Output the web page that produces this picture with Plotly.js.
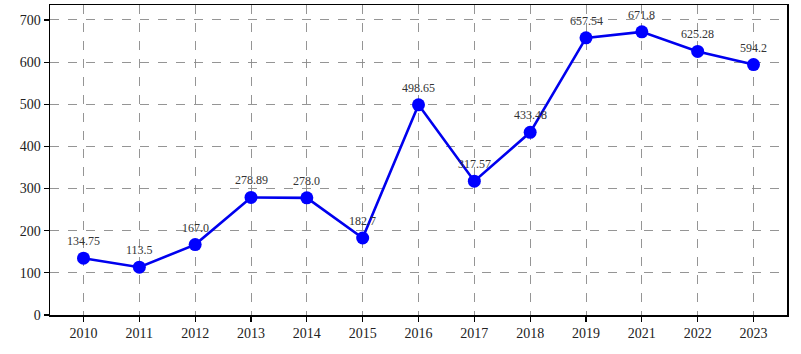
<!DOCTYPE html>
<html>
<head>
<meta charset="utf-8">
<script src="https://cdn.plot.ly/plotly-3.0.1.min.js"></script>
<style>html,body{margin:0;padding:0;background:#fff}#chart{width:801px;height:354px}</style>
</head>
<body>
<div id="chart"></div>
<script>
const years = ['2010','2011','2012','2013','2014','2015','2016','2017','2018','2019','2021','2022','2023'];
const values = [134.75, 113.5, 167.0, 278.89, 278.0, 182.7, 498.65, 317.57, 433.48, 657.54, 671.8, 625.28, 594.2];
const labels = ['134.75','113.5','167.0','278.89','278.0','182.7','498.65','317.57','433.48','657.54','671.8','625.28','594.2'];
const yTicks = [0,100,200,300,400,500,600,700];

const trace = {
  x: years.map((_, i) => i),
  y: values,
  type: 'scatter',
  mode: 'lines+markers',
  line: {color: '#0000ee', width: 2.6},
  marker: {color: '#0000ff', size: 13},
  hoverinfo: 'none'
};

const annotations = values.map((v, i) => ({
  x: i, y: v, xref: 'x', yref: 'y',
  text: labels[i], showarrow: false,
  yshift: 17,
  font: {family: 'Liberation Serif, serif', size: 12, color: '#333'}
}));

const layout = {
  width: 801, height: 354,
  margin: {l: 50, r: 14, t: 5, b: 39},
  paper_bgcolor: '#fff', plot_bgcolor: '#fff',
  showlegend: false,
  xaxis: {
    range: [-0.6, 12.6],
    tickvals: years.map((_, i) => i),
    ticktext: years,
    ticks: 'outside', ticklen: 5, tickwidth: 1.2, tickcolor: '#000',
    showline: true, mirror: true, linecolor: '#000', linewidth: 1.5,
    showgrid: true, gridcolor: '#8a8a8a', griddash: 'dash', gridwidth: 0.9,
    zeroline: false,
    tickfont: {family: 'Liberation Serif, serif', size: 14, color: '#222'}
  },
  yaxis: {
    range: [0, 735.5],
    tickvals: yTicks,
    ticks: 'outside', ticklen: 5, tickwidth: 1.2, tickcolor: '#000',
    showline: true, mirror: true, linecolor: '#000', linewidth: 1.5,
    showgrid: true, gridcolor: '#8a8a8a', griddash: 'dash', gridwidth: 0.9,
    zeroline: false,
    tickfont: {family: 'Liberation Serif, serif', size: 14, color: '#222'}
  },
  annotations: annotations
};

Plotly.newPlot('chart', [trace], layout, {displayModeBar: false, staticPlot: true});
</script>
</body>
</html>
